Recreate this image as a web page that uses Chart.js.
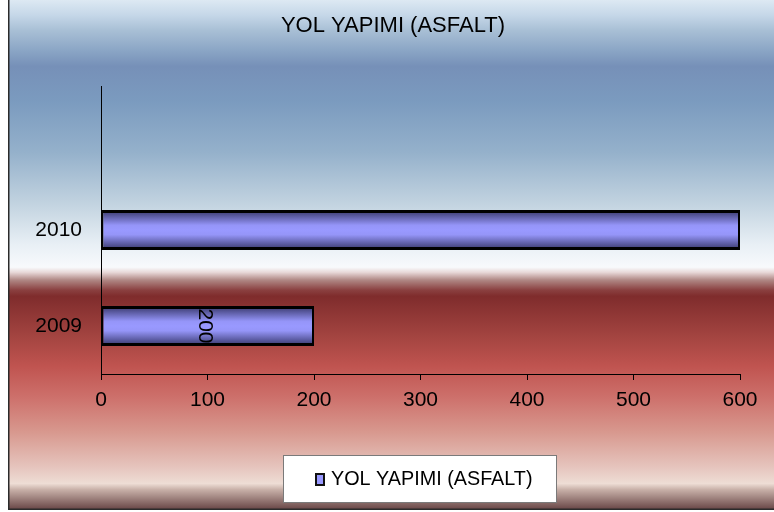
<!DOCTYPE html>
<html>
<head>
<meta charset="utf-8">
<script src="https://cdn.jsdelivr.net/npm/chart.js@4.4.1/dist/chart.umd.min.js"></script>
<style>
  html, body { margin: 0; padding: 0; background: #fff; }
  canvas { display: block; }
</style>
</head>
<body>
<canvas id="chart" width="774" height="512"></canvas>
<script>
// the top slot of the category axis is empty in the original
const years = ['', '2010', '2009'];
const asphalt = [null, 600, 200];
const valueTicks = [0, 100, 200, 300, 400, 500, 600];
const labelledYears = ['2009'];
const seriesName = 'YOL YAPIMI (ASFALT)';

const FONT = "'Liberation Sans', Arial, sans-serif";

const backdrop = {
  id: 'backdrop',
  beforeDraw(chart) {
    const { ctx } = chart;
    const g = ctx.createLinearGradient(0, 0, 0, 509);
    const stops = [
      [0.00, '#dde9f3'], [0.03, '#c5d7e8'], [0.06, '#a8bfd5'], [0.10, '#8aa5c5'],
      [0.13, '#7690b8'], [0.20, '#7b9bbf'], [0.30, '#95b1cb'], [0.40, '#c2d3e0'],
      [0.48, '#e8eff5'], [0.525, '#f8fafc'], [0.535, '#e8d8d8'], [0.55, '#b08885'],
      [0.57, '#8a4040'], [0.582, '#7f2c2c'], [0.66, '#a34440'], [0.72, '#c05450'],
      [0.78, '#cd706b'], [0.85, '#d8998f'], [0.92, '#e6c6bf'], [0.95, '#eeddd5'],
      [0.962, '#c8b0a8'], [1.00, '#6a4848']
    ];
    stops.forEach(([o, c]) => g.addColorStop(o, c));
    ctx.save();
    ctx.fillStyle = g;
    ctx.fillRect(9, 0, 765, 509);
    ctx.fillStyle = '#2b2b2b';
    ctx.fillRect(8, 0, 1.5, 510);
    ctx.fillRect(8, 508.5, 766, 1.5);
    // title, centred on the whole framed area
    ctx.font = '22px ' + FONT;
    ctx.fillStyle = '#000';
    ctx.textAlign = 'center';
    ctx.textBaseline = 'middle';
    ctx.fillText(seriesName, 393, 26);
    ctx.restore();
  }
};

const valueLabels = {
  id: 'valueLabels',
  afterDatasetsDraw(chart) {
    const { ctx } = chart;
    const meta = chart.getDatasetMeta(0);
    ctx.save();
    ctx.font = '21px ' + FONT;
    ctx.fillStyle = '#000';
    ctx.textAlign = 'center';
    ctx.textBaseline = 'middle';
    meta.data.forEach((bar, i) => {
      if (!labelledYears.includes(years[i])) return;
      ctx.save();
      ctx.translate((bar.x + bar.base) / 2, bar.y);
      ctx.rotate(Math.PI / 2);
      ctx.fillText(String(asphalt[i]), 0, 3);
      ctx.restore();
    });
    ctx.restore();
  }
};

const boxLegend = {
  id: 'boxLegend',
  afterDraw(chart) {
    const { ctx } = chart;
    ctx.save();
    ctx.fillStyle = '#fff';
    ctx.fillRect(283.5, 455.5, 273, 47);
    ctx.strokeStyle = '#7a7a7a';
    ctx.lineWidth = 1;
    ctx.strokeRect(283.5, 455.5, 273, 47);
    ctx.fillStyle = '#9999ff';
    ctx.fillRect(316, 474, 8, 11);
    ctx.strokeStyle = '#111';
    ctx.lineWidth = 2;
    ctx.strokeRect(316, 474, 8, 11);
    ctx.font = '19.8px ' + FONT;
    ctx.fillStyle = '#000';
    ctx.textBaseline = 'middle';
    ctx.fillText(chart.data.datasets[0].label, 331, 480);
    ctx.restore();
  }
};

function barFill(context) {
  const chart = context.chart;
  const y = chart.scales.y;
  const mid = y ? y.getPixelForValue(context.dataIndex) : NaN;
  if (!isFinite(mid)) return '#9999ff';
  const g = chart.ctx.createLinearGradient(0, mid - 20, 0, mid + 20);
  g.addColorStop(0, '#353565');
  g.addColorStop(0.15, '#5a5aa0');
  g.addColorStop(0.38, '#9595f8');
  g.addColorStop(0.5, '#9999ff');
  g.addColorStop(0.62, '#9595f8');
  g.addColorStop(0.85, '#5a5aa0');
  g.addColorStop(1, '#353565');
  return g;
}

new Chart(document.getElementById('chart'), {
  type: 'bar',
  data: {
    labels: years,
    datasets: [{
      label: seriesName,
      data: asphalt,
      backgroundColor: barFill,
      borderColor: '#000',
      borderWidth: { top: 3, bottom: 3, left: 2, right: 2 },
      borderSkipped: false,
      categoryPercentage: 1,
      barPercentage: 40 / 96
    }]
  },
  plugins: [backdrop, valueLabels, boxLegend],
  options: {
    indexAxis: 'y',
    responsive: false,
    animation: false,
    devicePixelRatio: 1,
    layout: { padding: { left: 9, right: 34, top: 86, bottom: 0 } },
    plugins: {
      legend: { display: false },
      tooltip: { enabled: false },
      title: { display: false }
    },
    scales: {
      x: {
        min: 0,
        max: 600,
        afterBuildTicks(scale) { scale.ticks = valueTicks.map(v => ({ value: v })); },
        afterFit(scale) { scale.height = 138; },
        grid: { drawOnChartArea: false, drawTicks: true, tickLength: 6, color: '#000' },
        border: { color: '#000', width: 1 },
        ticks: { color: '#000', padding: 8, font: { family: FONT, size: 21 }, maxRotation: 0 }
      },
      y: {
        afterFit(scale) { scale.width = 92; },
        grid: { drawOnChartArea: false, drawTicks: false },
        border: { color: '#000', width: 1 },
        ticks: { color: '#000', padding: 19, autoSkip: false, font: { family: FONT, size: 21 } }
      }
    }
  }
});
</script>
</body>
</html>
